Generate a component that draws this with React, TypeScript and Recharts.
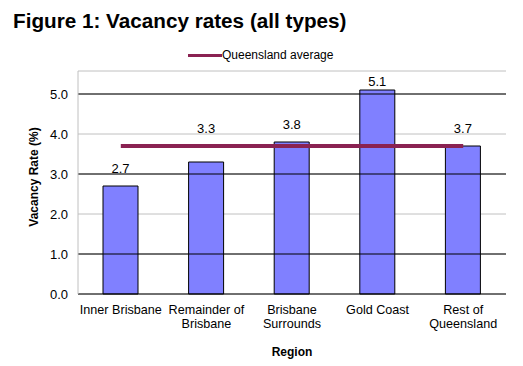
import {
  ComposedChart,
  Bar,
  Line,
  XAxis,
  YAxis,
  CartesianGrid,
  ReferenceLine,
  LabelList,
} from 'recharts';

const regions = [
  'Inner Brisbane',
  'Remainder of\nBrisbane',
  'Brisbane\nSurrounds',
  'Gold Coast',
  'Rest of\nQueensland',
];
const vacancyRates = [2.7, 3.3, 3.8, 5.1, 3.7];
const queenslandAverage = [3.7, 3.7, 3.7, 3.7, 3.7];
const yTicks = [0, 1, 2, 3, 4, 5];
const darkGridTicks = [1, 3, 5];

const data = regions.map((region, i) => ({
  region,
  rate: vacancyRates[i],
  avg: queenslandAverage[i],
}));

const FONT = '"Liberation Sans", Arial, sans-serif';
const PLOT_TOP = 71;

function RegionTick(props: any) {
  const { x, y, payload } = props;
  const lines = String(payload.value).split('\n');
  return (
    <text x={x} y={y + 20} textAnchor="middle" fontSize={12.6} fill="#000" fontFamily={FONT}>
      {lines.map((l: string, i: number) => (
        <tspan key={i} x={x} dy={i === 0 ? 0 : 14}>
          {l}
        </tspan>
      ))}
    </text>
  );
}

// labels sit above the average line when the bar top is close to it (like the Excel original)
function RateLabel(props: any) {
  const { x, y, width, height, value, index } = props;
  const v = Number(value);
  const avg = queenslandAverage[index];
  const perUnit = height / v;
  const bottom = y + height;
  const ref = avg - v < 0.6 ? Math.max(v, avg) : v;
  let baseline = bottom - ref * perUnit - 13;
  if (baseline < PLOT_TOP + 15) baseline = PLOT_TOP + 15;
  return (
    <text x={x + width / 2} y={baseline} textAnchor="middle" fontSize={13} fill="#000" fontFamily={FONT}>
      {v.toFixed(1)}
    </text>
  );
}

export default function App() {
  return (
    <div
      style={{
        position: 'absolute',
        left: 0,
        top: 0,
        width: 523,
        height: 366,
        background: '#fff',
        fontFamily: FONT,
      }}
    >
      <div
        style={{
          position: 'absolute',
          left: 13,
          top: 8,
          fontSize: 20.7,
          fontWeight: 'bold',
          color: '#000',
          whiteSpace: 'nowrap',
          lineHeight: '26px',
        }}
      >
        Figure 1: Vacancy rates (all types)
      </div>
      <div
        style={{
          position: 'absolute',
          left: 188,
          top: 48,
          display: 'flex',
          alignItems: 'center',
          fontSize: 12,
          color: '#000',
          whiteSpace: 'nowrap',
        }}
      >
        <span style={{ display: 'inline-block', width: 34, height: 3, background: '#8a2252' }} />
        <span>Queensland average</span>
      </div>
      <div style={{ position: 'absolute', left: 0, top: 0 }}>
        <ComposedChart
          width={523}
          height={366}
          data={data}
          margin={{ top: PLOT_TOP, right: 17, left: 0, bottom: 0 }}
        >
          <CartesianGrid horizontal vertical={false} stroke="#c0c0c0" />
          {darkGridTicks.map((t) => (
            <ReferenceLine key={t} y={t} stroke="#000" />
          ))}
          <XAxis
            dataKey="region"
            height={72}
            tickLine={false}
            tickSize={0}
            tickMargin={0}
            axisLine={{ stroke: '#000' }}
            tick={<RegionTick />}
            interval={0}
            label={{
              content: () => (
                <text x={292} y={356} textAnchor="middle" fontSize={12} fontWeight="bold" fontFamily={FONT}>
                  Region
                </text>
              ),
            }}
          />
          <XAxis xAxisId="top" orientation="top" height={0} tick={false} tickLine={false} axisLine={{ stroke: '#c0c0c0' }} />
          <YAxis
            width={78}
            domain={[0, 5.575]}
            ticks={yTicks}
            tickFormatter={(v: number) => v.toFixed(1)}
            tickLine={false}
            tickSize={0}
            tickMargin={10}
            axisLine={{ stroke: '#c0c0c0' }}
            tick={{ fontSize: 13, fill: '#000', fontFamily: FONT }}
            label={{
              content: () => (
                <text
                  x={38}
                  y={177}
                  transform="rotate(-90 38 177)"
                  textAnchor="middle"
                  fontSize={12}
                  fontWeight="bold"
                  fontFamily={FONT}
                >
                  Vacancy Rate (%)
                </text>
              ),
            }}
          />
          <YAxis yAxisId="right" orientation="right" width={0} tick={false} tickLine={false} axisLine={{ stroke: '#c0c0c0' }} />
          <Bar dataKey="rate" fill="#8080ff" stroke="#000" strokeWidth={1} barSize={35} isAnimationActive={false}>
            <LabelList dataKey="rate" content={<RateLabel />} />
          </Bar>
          <Line
            dataKey="avg"
            stroke="#8a2252"
            strokeWidth={4}
            dot={false}
            activeDot={false}
            isAnimationActive={false}
          />
        </ComposedChart>
      </div>
    </div>
  );
}
